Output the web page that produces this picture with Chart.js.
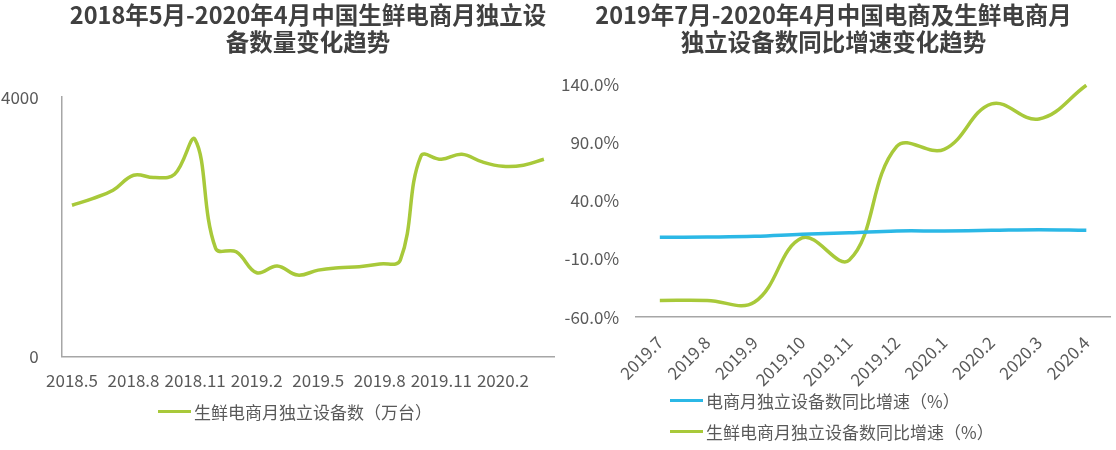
<!DOCTYPE html>
<html>
<head>
<meta charset="utf-8">
<script src="https://cdn.jsdelivr.net/npm/chart.js@4.4.1/dist/chart.umd.min.js"></script>
<style>
    body { margin: 0; background: #fff; font-family: 'Noto Sans CJK SC', sans-serif; }
    .wrap { position: relative; width: 1116px; height: 450px; overflow: hidden; }
    .box { position: absolute; top: 0; height: 450px; }
    .legend-item { position: absolute; display: flex; align-items: center; font-size: 17px; color: #595959; white-space: nowrap; }
    .legend-item .swatch { width: 33px; height: 3px; margin-right: 3px; }
</style>
</head>
<body>
<div class="wrap">
    <!-- canvases are shifted left so the tick-label overhang padding sits outside the page -->
    <div class="box" style="left:-24px;width:582px;"><canvas id="left-chart" width="582" height="450"></canvas></div>
    <div class="box" style="left:540px;width:576px;"><canvas id="right-chart" width="576" height="450"></canvas></div>
    <div class="legend-item" style="left:158px;top:399px;"><span class="swatch" style="background:#a8c93a"></span>生鲜电商月独立设备数（万台）</div>
    <div class="legend-item" style="left:670px;top:388px;"><span class="swatch" style="background:#2bb8e6"></span>电商月独立设备数同比增速（%）</div>
    <div class="legend-item" style="left:670px;top:419px;"><span class="swatch" style="background:#a8c93a"></span>生鲜电商月独立设备数同比增速（%）</div>
</div>
<script>
const deviceMonths = ['2018.5', '2018.6', '2018.7', '2018.8', '2018.9', '2018.10', '2018.11', '2018.12',
    '2019.1', '2019.2', '2019.3', '2019.4', '2019.5', '2019.6', '2019.7', '2019.8', '2019.9', '2019.10',
    '2019.11', '2019.12', '2020.1', '2020.2', '2020.3', '2020.4'];
const freshDevices = [2333, 2436, 2564, 2795, 2759, 2810, 3344, 1667, 1615, 1292, 1395, 1256,
    1333, 1369, 1385, 1426, 1487, 3087, 3041, 3118, 3000, 2933, 2949, 3041];
const deviceTicks = [0, 4000];

const growthMonths = ['2019.7', '2019.8', '2019.9', '2019.10', '2019.11', '2019.12', '2020.1', '2020.2', '2020.3', '2020.4'];
const ecomGrowth = [8.6, 8.8, 9.4, 11.2, 12.5, 14.0, 14.0, 14.5, 15.0, 14.5];
const freshGrowth = [-45.6, -45.6, -47.0, 8.0, -11.0, 86.5, 84.0, 123.0, 110.0, 139.0];
const growthTicks = [-60, -10, 40, 90, 140];

const GREEN = '#a8c93a';
const BLUE = '#2bb8e6';
const TEXT = '#595959';
const AXIS = '#a6a6a6';

document.addEventListener('DOMContentLoaded', () => {
    Chart.defaults.font.family = "'Noto Sans CJK SC', sans-serif";
    Chart.defaults.color = TEXT;

    const titleOpts = (lines, bottom, fullSize) => ({
        display: true,
        text: lines,
        fullSize: fullSize,
        color: '#404040',
        font: { size: 23.5, weight: 'bold', lineHeight: 1.15 },
        padding: { top: 2, bottom: bottom },
    });

    // nudge the title block sideways a few pixels
    const titleShift = (dx) => ({
        id: 'title-shift',
        afterLayout(chart) {
            if (chart.titleBlock) {
                chart.titleBlock.left += dx;
                chart.titleBlock.right += dx;
            }
        },
    });

    new Chart(document.getElementById('left-chart'), {
        type: 'line',
        data: {
            labels: deviceMonths,
            datasets: [{
                data: freshDevices,
                borderColor: GREEN,
                borderWidth: 3.5,
                pointRadius: 0,
                tension: 0.4,
                fill: false,
            }],
        },
        options: {
            responsive: false,
            animation: false,
            layout: { padding: { left: 2, right: 1, bottom: 45 } },
            plugins: {
                legend: { display: false },
                tooltip: { enabled: false },
                title: titleOpts(['2018年5月-2020年4月中国生鲜电商月独立设', '备数量变化趋势'], 41, false),
            },
            scales: {
                x: {
                    offset: true,
                    grid: { display: false, drawTicks: false },
                    border: { color: AXIS, width: 1.5 },
                    ticks: {
                        autoSkip: false,
                        maxRotation: 0,
                        padding: 14,
                        font: { size: 17 },
                        callback: (value, index) => (index % 3 === 0 ? deviceMonths[index] : ''),
                    },
                },
                y: {
                    min: deviceTicks[0],
                    max: deviceTicks[deviceTicks.length - 1],
                    afterBuildTicks: (axis) => { axis.ticks = deviceTicks.map((v) => ({ value: v })); },
                    grid: { display: false, drawTicks: false },
                    border: { color: AXIS, width: 1.5 },
                    ticks: { padding: 23, font: { size: 17 }, callback: (v) => String(v) },
                },
            },
        },
    });

    new Chart(document.getElementById('right-chart'), {
        type: 'line',
        data: {
            labels: growthMonths,
            datasets: [
                {
                    label: '电商月独立设备数同比增速（%）',
                    data: ecomGrowth,
                    borderColor: BLUE,
                    borderWidth: 3.5,
                    pointRadius: 0,
                    tension: 0.4,
                },
                {
                    label: '生鲜电商月独立设备数同比增速（%）',
                    data: freshGrowth,
                    borderColor: GREEN,
                    borderWidth: 3.5,
                    pointRadius: 0,
                    tension: 0.4,
                },
            ],
        },
        options: {
            responsive: false,
            animation: false,
            layout: { padding: { left: 4, right: 5, bottom: 45 } },
            plugins: {
                legend: { display: false },
                tooltip: { enabled: false },
                title: titleOpts(['2019年7月-2020年4月中国电商及生鲜电商月', '独立设备数同比增速变化趋势'], 28, true),
            },
            scales: {
                x: {
                    offset: true,
                    grid: { display: false, drawTicks: false },
                    border: { color: AXIS, width: 1.5 },
                    ticks: { minRotation: 45, maxRotation: 45, autoSkip: false, padding: 15, font: { size: 17 } },
                },
                y: {
                    min: growthTicks[0],
                    max: growthTicks[growthTicks.length - 1],
                    afterBuildTicks: (axis) => { axis.ticks = growthTicks.map((v) => ({ value: v })); },
                    grid: { display: false, drawTicks: false },
                    border: { display: false },
                    ticks: { padding: 17, font: { size: 17 }, callback: (v) => v.toFixed(1) + '%' },
                },
            },
        },
        plugins: [titleShift(6)],
    });
});
</script>
</body>
</html>
